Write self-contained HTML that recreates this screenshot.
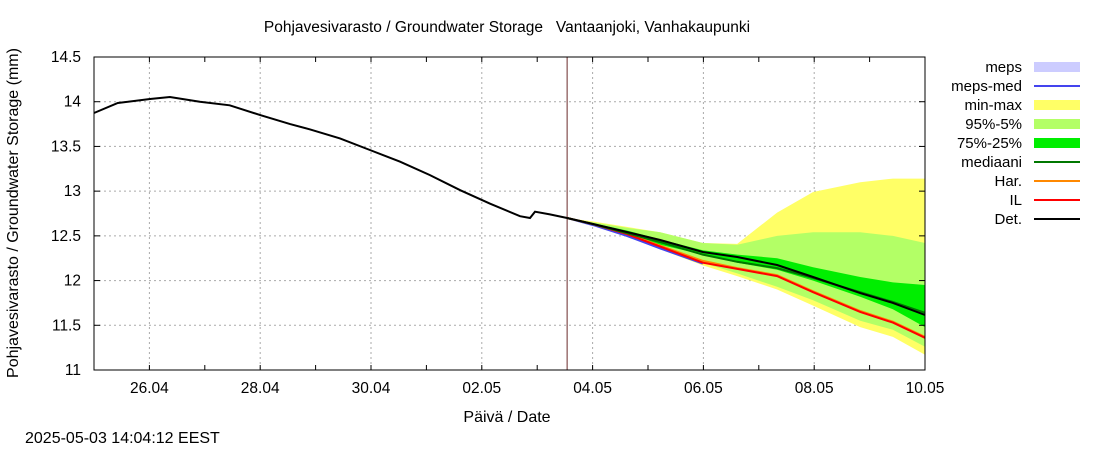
<!DOCTYPE html>
<html><head><meta charset="utf-8"><style>
body{margin:0;background:#fff;}
svg{display:block;font-family:"Liberation Sans",sans-serif;}
</style></head><body>
<svg id="chart" width="1100" height="450" xmlns="http://www.w3.org/2000/svg">
<text x="507" y="32" font-size="15.5" text-anchor="middle" fill="#000" style="white-space:pre">Pohjavesivarasto / Groundwater Storage   Vantaanjoki, Vanhakaupunki</text>
<text x="507" y="422" font-size="16" text-anchor="middle">Päivä / Date</text>
<text x="18" y="213" font-size="16" text-anchor="middle" transform="rotate(-90 18 213)">Pohjavesivarasto / Groundwater Storage (mm)</text>
<text x="25" y="443" font-size="16">2025-05-03 14:04:12 EEST</text>
<g id="grid"></g><g id="bands"></g><g id="lines"></g><g id="axes"></g><g id="legend"></g>
</svg>
<script>
const xTickLabels=["26.04","28.04","30.04","02.05","04.05","06.05","08.05","10.05"];
const xTickDays=[1,3,5,7,9,11,13,15];
const yTicks=[11,11.5,12,12.5,13,13.5,14,14.5];
const histDays=[0,0.43,1.01,1.37,1.91,2.45,3.0,3.54,3.9,4.44,4.98,5.52,6.06,6.61,7.15,7.69,7.87,7.96,8.23,8.54];
const histVals=[13.874,13.986,14.03,14.053,14.0,13.96,13.85,13.75,13.69,13.59,13.46,13.33,13.18,13.01,12.86,12.72,12.70,12.77,12.74,12.70];
const fcDays=[8.54,9.01,9.62,10.22,10.99,11.61,12.33,12.98,13.83,14.42,15];
const detVals=[12.70,12.633,12.543,12.454,12.32,12.264,12.174,12.04,11.86,11.75,11.615];
const medVals=[12.70,12.63,12.53,12.43,12.29,12.21,12.14,12.03,11.87,11.76,11.64];
const ilVals=[12.70,12.63,12.52,12.38,12.2,12.13,12.05,11.87,11.65,11.53,11.36];
const harVals=[12.70,12.63,12.525,12.39,12.22,12.14,12.06,11.88,11.66,11.54,11.37];
const mepsDays=[8.54,9.01,9.62,10.22,10.99];
const mepsVals=[12.70,12.62,12.50,12.36,12.19];
const q75Up=[12.70,12.64,12.56,12.46,12.34,12.29,12.25,12.15,12.04,11.98,11.95];
const q25Lo=[12.70,12.62,12.52,12.40,12.29,12.20,12.12,12.00,11.82,11.68,11.48];
const q95Up=[12.70,12.65,12.59,12.54,12.42,12.40,12.50,12.54,12.54,12.50,12.42];
const q5Lo=[12.70,12.62,12.51,12.36,12.20,12.08,11.93,11.78,11.55,11.45,11.26];
const maxUp=[12.70,12.66,12.60,12.54,12.42,12.41,12.76,12.99,13.10,13.14,13.14];
const minLo=[12.70,12.62,12.50,12.35,12.17,12.05,11.90,11.72,11.48,11.37,11.17];
const nowDay=8.54;

const X0=94,X1=925,Y0=57,Y1=370;
const xs=d=>X0+d*(X1-X0)/15;
const ys=v=>Y1-(v-11)*(Y1-Y0)/3.5;
const NS="http://www.w3.org/2000/svg";
function mk(tag,parent,attrs){const e=document.createElementNS(NS,tag);for(const k in attrs)e.setAttribute(k,attrs[k]);document.getElementById(parent).appendChild(e);return e;}
function pts(ds,vs){return ds.map((d,i)=>xs(d).toFixed(1)+","+ys(vs[i]).toFixed(1)).join(" ");}

xTickDays.forEach((d,i)=>{
  if(d<15){const l=mk("line","grid",{x1:xs(d),x2:xs(d),y1:Y0,y2:Y1,stroke:"#aaa","stroke-dasharray":"2,3"});
  
  }
  const t=mk("text","axes",{x:xs(d),y:Y1+23,"font-size":15.5,"text-anchor":"middle"});
  t.textContent=xTickLabels[i];
  
  
});
yTicks.forEach(v=>{
  if(v>11&&v<14.5){const l=mk("line","grid",{x1:X0,x2:X1,y1:ys(v),y2:ys(v),stroke:"#aaa","stroke-dasharray":"2,3"});
  
  }
  mk("line","axes",{x1:X0,x2:X0+6,y1:ys(v),y2:ys(v),stroke:"#000"});
  mk("line","axes",{x1:X1,x2:X1-6,y1:ys(v),y2:ys(v),stroke:"#000"});
  const t=mk("text","axes",{x:X0-13,y:ys(v)+5,"font-size":15.5,"text-anchor":"end"});
  t.textContent=String(v);
  
  
});
for(let d=1;d<15;d++){mk("line","axes",{x1:xs(d),x2:xs(d),y1:Y1,y2:Y1-5,stroke:"#000"});mk("line","axes",{x1:xs(d),x2:xs(d),y1:Y0,y2:Y0+5,stroke:"#000"});}
const frame=mk("rect","axes",{x:X0,y:Y0,width:X1-X0,height:Y1-Y0,fill:"none",stroke:"#000"});



function band(up,lo,color,name){
  const p=pts(fcDays,up)+" "+pts(fcDays.slice().reverse(),lo.slice().reverse());
  const e=mk("polygon","bands",{points:p,fill:color});
  
  
}
band(maxUp,minLo,"#ffff66","min-max-band");
band(q95Up,q5Lo,"#b3ff66","p95-p5-band");
band(q75Up,q25Lo,"#00ee00","p75-p25-band");

const nl=mk("line","lines",{x1:xs(nowDay),x2:xs(nowDay),y1:Y0,y2:Y1,stroke:"#6a2a2a","stroke-width":1});



function line(ds,vs,color,w,name){
  const e=mk("polyline","lines",{points:pts(ds,vs),fill:"none",stroke:color,"stroke-width":w});
  
  
}
line(mepsDays,mepsVals,"#4444ee",2,"meps-med-line");
line(fcDays,harVals,"#ff8800",2,"har-line");
line(fcDays,ilVals,"#ff0000",2,"il-line");
line(fcDays,medVals,"#007700",2,"median-line");
line(histDays,histVals,"#000",2,"observed-line");
line(fcDays,detVals,"#000",2,"det-line");

const legNames=["meps","meps-med","min-max","95%-5%","75%-25%","mediaani","Har.","IL","Det."];
const legColors=["#ccccff","#4444ee","#ffff66","#b3ff66","#00ee00","#007700","#ff8800","#ff0000","#000"];
const legBox=[true,false,true,true,true,false,false,false,false];
legNames.forEach((n,i)=>{
  const y=67+i*19;
  const t=mk("text","legend",{x:1022,y:y+5,"font-size":15,"text-anchor":"end"});
  t.textContent=n;
  
  
  let s;
  if(legBox[i]) s=mk("rect","legend",{x:1034,y:y-5,width:46,height:10,fill:legColors[i]});
  else s=mk("line","legend",{x1:1034,x2:1080,y1:y,y2:y,stroke:legColors[i],"stroke-width":2});
  
  
});
</script>
</body></html>
